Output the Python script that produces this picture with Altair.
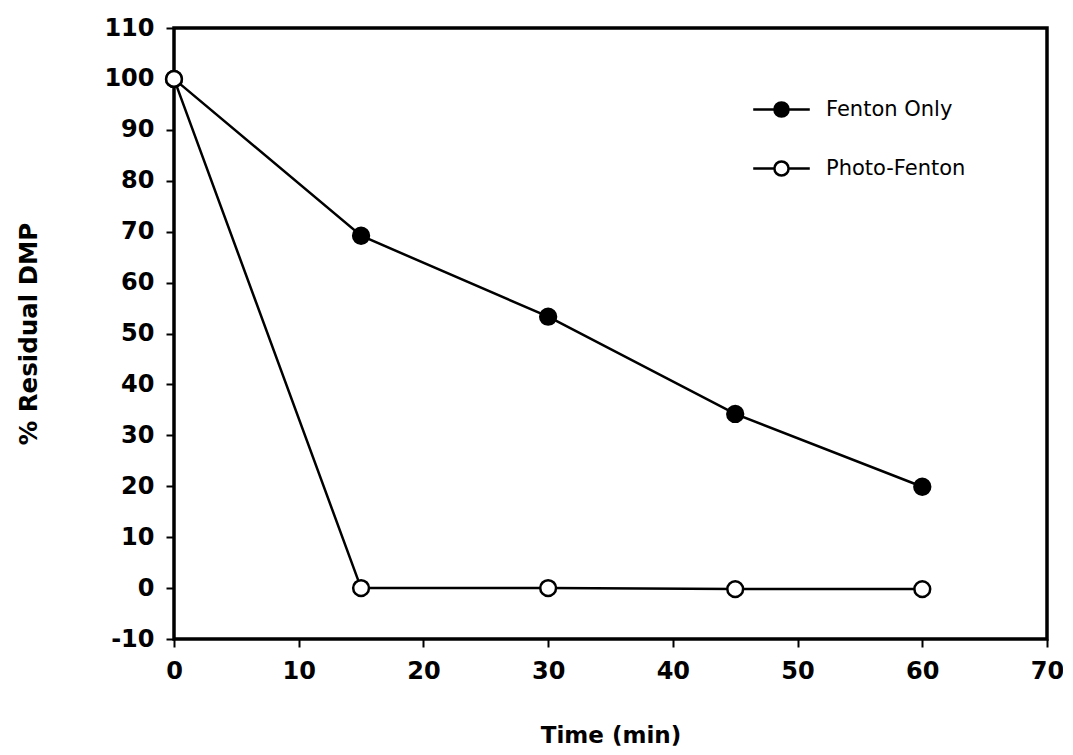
import altair as alt
import pandas as pd

times = [0, 15, 30, 45, 60]
fenton_only = [100, 69.2, 53.3, 34.2, 19.9]
photo_fenton = [100, 0, 0, -0.2, -0.2]
series_names = ["Fenton Only", "Photo-Fenton"]
x_ticks = [0, 10, 20, 30, 40, 50, 60, 70]
y_ticks = [-10, 0, 10, 20, 30, 40, 50, 60, 70, 80, 90, 100, 110]

rows = []
for t, v in zip(times, fenton_only):
    rows.append({"time": t, "value": v, "series": series_names[0]})
for t, v in zip(times, photo_fenton):
    rows.append({"time": t, "value": v, "series": series_names[1]})
df = pd.DataFrame(rows)

FONT = "DejaVu Sans"

x_enc = alt.X("time:Q", title="Time (min)",
              scale=alt.Scale(domain=[0, 70], nice=False, zero=False),
              axis=alt.Axis(values=x_ticks, grid=False, tickSize=8, tickWidth=2,
                            tickColor="black", domain=False, labelPadding=12,
                            labelFont=FONT, labelFontSize=24, labelFontWeight="bold",
                            labelColor="black", titleFont=FONT, titleFontSize=23,
                            titleFontWeight="bold", titleColor="black", titlePadding=41,
                            labelFlush=False, labelExpr="'' + datum.value"))
y_enc = alt.Y("value:Q", title="% Residual DMP",
              scale=alt.Scale(domain=[-10, 110], nice=False, zero=False),
              axis=alt.Axis(values=y_ticks, grid=False, tickSize=8, tickWidth=2,
                            tickColor="black", domain=False, labelPadding=12,
                            labelFont=FONT, labelFontSize=24, labelFontWeight="bold",
                            labelColor="black", titleFont=FONT, titleFontSize=24.5,
                            titleFontWeight="bold", titleColor="black", titlePadding=62,
                            labelFlush=False, labelExpr="'' + datum.value"))

base = alt.Chart(df)

lines = base.mark_line(color="black", strokeWidth=2.5).encode(
    x=x_enc, y=y_enc, detail="series:N"
)

legend_symbol = "M-4,0L-1,0M1,0L4,0M1,0A1,1,0,1,1,-1,0A1,1,0,1,1,1,0Z"

points = base.mark_point(filled=True, size=250, stroke="black", strokeWidth=2.5,
                         opacity=1).encode(
    x=x_enc, y=y_enc,
    fill=alt.Fill("series:N",
                  scale=alt.Scale(domain=series_names, range=["black", "white"]),
                  legend=alt.Legend(title=None, orient="none", legendX=597, legendY=71,
                                    symbolType=legend_symbol, symbolSize=200,
                                    symbolStrokeColor="black", symbolStrokeWidth=2.5,
                                    labelFont=FONT, labelFontSize=21, labelColor="black",
                                    labelOffset=34, rowPadding=34, padding=0))
)

chart = alt.layer(lines, points).properties(
    width=873, height=611,
    background="white",
    padding={"left": 166, "top": 20, "right": 16, "bottom": 108},
    autosize=alt.AutoSizeParams(type="none"),
).configure_view(stroke="black", strokeWidth=3.5)

chart.save("out.html", embed_options={"renderer": "svg", "actions": False})
